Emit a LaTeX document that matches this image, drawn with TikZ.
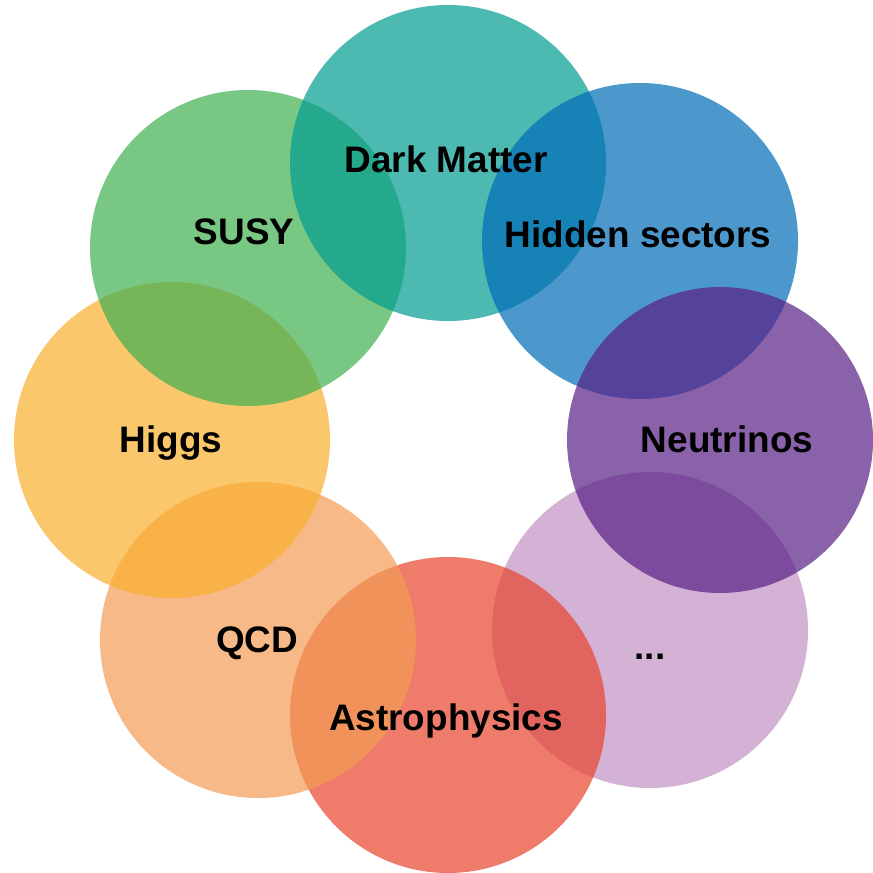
\documentclass[tikz,border=0pt]{standalone}
\usepackage{fontspec}
\setmainfont{Liberation Sans}
\usepackage{tikz}

\definecolor{dmteal}{HTML}{029C91}
\definecolor{hiddenblue}{HTML}{006CB8}
\definecolor{nupurple}{HTML}{591F86}
\definecolor{morelilac}{HTML}{C092C3}
\definecolor{astrored}{HTML}{E8442C}
\definecolor{qcdorange}{HTML}{F29B54}
\definecolor{higgsyellow}{HTML}{F9AF2E}
\definecolor{susygreen}{HTML}{3EB04F}

\begin{document}
\begin{tikzpicture}[
  bubble/.style={fill opacity=0.7},
  topic/.style={anchor=base, inner sep=0pt, font=\fontsize{10.5}{12}\selectfont\bfseries}]
\useasboundingbox (0,0) rectangle (8.73,8.72);

% circles, bottom one first
\fill[bubble,morelilac] (6.50,2.42) circle (1.58);
\fill[bubble,astrored] (4.48,1.57) circle (1.58);
\fill[bubble,qcdorange] (2.58,2.32) circle (1.58);
\fill[bubble,higgsyellow] (1.72,4.32) circle (1.58);
\fill[bubble,susygreen] (2.48,6.24) circle (1.58);
\fill[bubble,dmteal] (4.48,7.09) circle (1.58);
\fill[bubble,hiddenblue] (6.40,6.31) circle (1.58);
\fill[bubble,nupurple] (7.20,4.32) circle (1.53);

% labels
\node[topic] (dm) at (4.46,6.99) {Dark Matter};
\node[topic] (hidden) at (6.38,6.24) {Hidden sectors};
\node[topic] (nu) at (7.27,4.20) {Neutrinos};
\node[topic] (more) at (6.50,2.13) {...};
\node[topic] (astro) at (4.46,1.42) {Astrophysics};
\node[topic] (qcd) at (2.57,2.20) {QCD};
\node[topic] (higgs) at (1.71,4.20) {Higgs};
\node[topic] (susy) at (2.44,6.27) {SUSY};
\end{tikzpicture}
\end{document}
